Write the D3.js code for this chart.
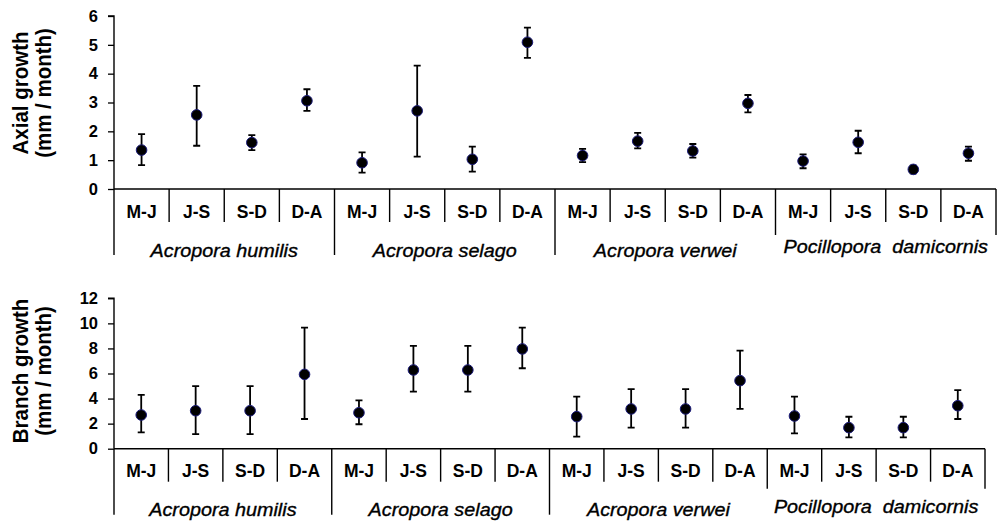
<!DOCTYPE html>
<html>
<head>
<meta charset="utf-8">
<script src="https://cdn.jsdelivr.net/npm/d3@7"></script>
<style>
  body { margin: 0; background: #fff; }
  svg { display: block; font-family: "Liberation Sans", Arial, sans-serif; }
  .grp { white-space: pre; }
</style>
</head>
<body>
<div id="chart"></div>
<script>
// species groups and sampling periods
const groups = ["Acropora humilis", "Acropora selago", "Acropora verwei", "Pocillopora  damicornis"]
const periods = ["M-J", "J-S", "S-D", "D-A"]

// axial growth (mm / month): mean, lower and upper end of error bar
const axialMean = [1.35, 2.57, 1.61, 3.06, 0.91, 2.71, 1.03, 5.09, 1.16, 1.66, 1.32, 2.97, 0.97, 1.62, 0.68, 1.24]
const axialLow = [0.83, 1.50, 1.35, 2.71, 0.57, 1.12, 0.60, 4.55, 0.93, 1.41, 1.09, 2.66, 0.72, 1.24, 0.54, 0.98]
const axialHigh = [1.90, 3.58, 1.87, 3.46, 1.27, 4.28, 1.47, 5.60, 1.39, 1.95, 1.56, 3.26, 1.20, 2.02, 0.81, 1.47]

// branch growth (mm / month)
const branchMean = [2.69, 3.03, 3.03, 5.93, 2.87, 6.28, 6.28, 7.96, 2.56, 3.17, 3.17, 5.43, 2.61, 1.68, 1.68, 3.43]
const branchLow = [1.31, 1.17, 1.17, 2.37, 1.95, 4.55, 4.55, 6.42, 0.96, 1.68, 1.68, 3.17, 1.23, 0.91, 0.91, 2.37]
const branchHigh = [4.29, 5.00, 5.00, 9.66, 3.86, 8.20, 8.20, 9.66, 4.15, 4.76, 4.76, 7.82, 4.15, 2.55, 2.55, 4.68]

const axialTicks = [0, 1, 2, 3, 4, 5, 6]
const branchTicks = [0, 2, 4, 6, 8, 10, 12]

const svg = d3.select("#chart").append("svg").attr("width", 999).attr("height", 525)

function drawPanel(opt) {
  const g = svg.append("g")
  const cats = d3.range(groups.length * periods.length)

  const x = d3.scaleBand().domain(cats).range([opt.x0, opt.x1])
  const y = d3.scaleLinear().domain(opt.domain).range([opt.yBottom, opt.yTop])
  const base = y(0)

  // y axis
  const yAxis = d3.axisLeft(y).tickValues(opt.ticks).tickFormat(d3.format("d"))
    .tickSize(6).tickPadding(10)
  const ya = g.append("g").attr("transform", `translate(${opt.x0},0)`).call(yAxis)
  ya.select(".domain").attr("d", `M-6,${y(opt.domain[1])}H0V${base}`)
    .attr("stroke", "#000").attr("stroke-width", 1.4)
  ya.selectAll(".tick line").attr("stroke", "#000").attr("stroke-width", 1.3)
  ya.selectAll(".tick text")
    .attr("fill", "#000")
    .style("font-size", "16.5px")
    .style("font-weight", "bold")
    .style("font-family", "'Liberation Sans', Arial, sans-serif")

  // x axis line
  g.append("line")
    .attr("x1", opt.x0).attr("x2", opt.x1)
    .attr("y1", base).attr("y2", base)
    .attr("stroke", "#000").attr("stroke-width", 1.4)

  // separators between categories
  cats.forEach(i => {
    if (i === 0) return
    if (i % periods.length === 0) return
    const xx = x(i)
    g.append("line")
      .attr("x1", xx).attr("x2", xx)
      .attr("y1", base).attr("y2", base + 33)
      .attr("stroke", "#000").attr("stroke-width", 1.4)
  })

  // group separators
  for (let k = 0; k <= groups.length; k++) {
    const xx = k < groups.length ? x(k * periods.length) : opt.x1
    const last = k >= groups.length - 1
    g.append("line")
      .attr("x1", xx).attr("x2", xx)
      .attr("y1", base).attr("y2", base + (last ? opt.lastDrop : 66))
      .attr("stroke", "#000").attr("stroke-width", 1.4)
  }

  // period labels
  g.selectAll(".per")
    .data(cats)
    .enter()
    .append("text")
    .attr("class", "per")
    .attr("x", d => x(d) + x.bandwidth() / 2)
    .attr("y", base + 28.7)
    .attr("text-anchor", "middle")
    .style("font-size", "17.5px")
    .style("font-weight", "bold")
    .text(d => periods[d % periods.length])

  // group labels
  groups.forEach((name, k) => {
    const left = x(k * periods.length)
    const right = k < groups.length - 1 ? x((k + 1) * periods.length) : opt.x1
    const cx = (left + right) / 2
    const yy = base + (k === groups.length - 1 ? 64 : 67.5)
    g.append("text")
      .attr("class", "grp")
      .attr("transform", `translate(${cx},${yy}) scale(1.07,1)`)
      .attr("text-anchor", "middle")
      .attr("stroke", "#000")
      .attr("stroke-width", 0.35)
      .style("font-size", "18.5px")
      .style("font-style", "italic")
      .text(name)
  })

  // y axis title
  const title = g.append("text")
    .attr("transform", `translate(28,${opt.titleY}) rotate(-90) scale(1,1.12)`)
    .attr("text-anchor", "middle")
    .style("font-size", "20.5px")
    .style("font-weight", "bold")
  title.append("tspan").attr("x", 0).attr("dy", 0).text(opt.title)
  title.append("tspan").attr("x", 0).attr("dy", 20.5).text("(mm / month)")

  // error bars
  const pts = cats.map(i => ({
    i,
    mean: opt.mean[i],
    lo: opt.low[i],
    hi: opt.high[i]
  }))
  const cx = d => x(d.i) + x.bandwidth() / 2

  g.selectAll(".err")
    .data(pts)
    .enter()
    .append("path")
    .attr("d", d => `M${cx(d)},${y(d.hi)}V${y(d.lo)}M${cx(d) - 3.5},${y(d.hi)}h7M${cx(d) - 3.5},${y(d.lo)}h7`)
    .attr("stroke", "#000")
    .attr("stroke-width", 1.8)
    .attr("fill", "none")

  g.selectAll(".dot")
    .data(pts)
    .enter()
    .append("circle")
    .attr("cx", cx)
    .attr("cy", d => y(d.mean))
    .attr("r", 5.3)
    .attr("fill", "#000")
    .attr("stroke", "#1c1c7a")
    .attr("stroke-width", 1)
}

drawPanel({
  x0: 114, x1: 996,
  yTop: 16, yBottom: 189,
  domain: [0, 6], ticks: axialTicks,
  mean: axialMean, low: axialLow, high: axialHigh,
  title: "Axial growth", titleY: 93,
  lastDrop: 46
})

drawPanel({
  x0: 114, x1: 985,
  yTop: 298.3, yBottom: 448.7,
  domain: [0, 12], ticks: branchTicks,
  mean: branchMean, low: branchLow, high: branchHigh,
  title: "Branch growth", titleY: 371,
  lastDrop: 40
})
</script>
</body>
</html>
